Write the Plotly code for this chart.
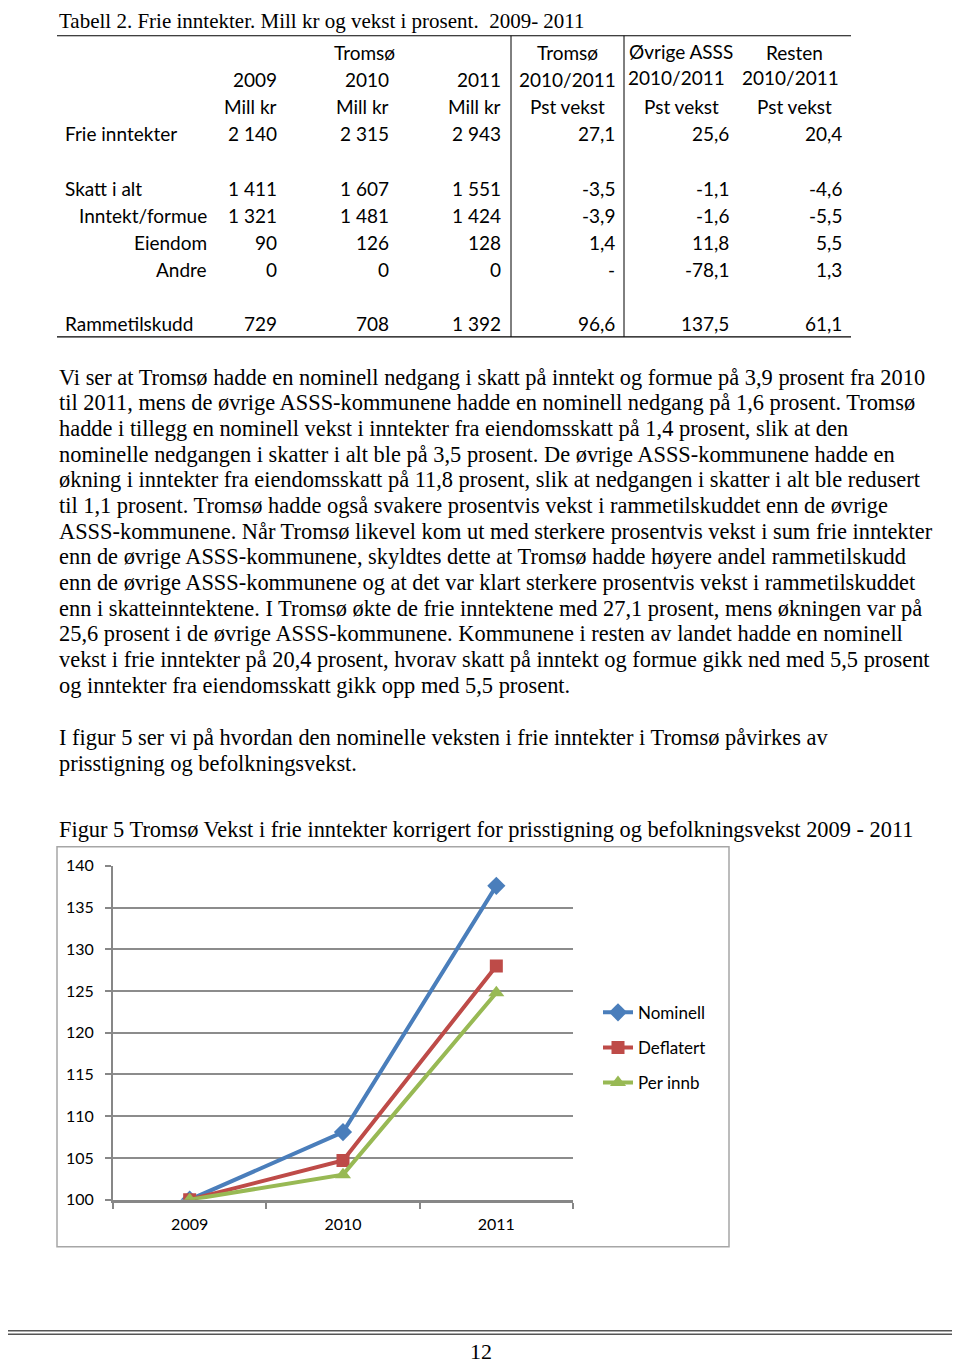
import plotly.graph_objects as go

# The page is shown with an 8px body margin and a small vertical squeeze, so
# positions below are page pixels read off the reference and mapped to paper.
OFF_X = 8
TOP, SQUEEZE = 17.8, 0.9865
FW, FH = 944, 1365
EASE = 10  # px the table block is eased down at the very top

# Tabell 2 data
row_labels = ["Frie inntekter", "Skatt i alt", "Inntekt/formue", "Eiendom", "Andre", "Rammetilskudd"]
row_indent = [False, False, True, True, True, False]
mill_2009 = [2140, 1411, 1321, 90, 0, 729]
mill_2010 = [2315, 1607, 1481, 126, 0, 708]
mill_2011 = [2943, 1551, 1424, 128, 0, 1392]
pst_tromso = [27.1, -3.5, -3.9, 1.4, None, 96.6]
pst_ovrige = [25.6, -1.1, -1.6, 11.8, -78.1, 137.5]
pst_resten = [20.4, -4.6, -5.5, 5.5, 1.3, 61.1]

# Figur 5 data
years = ["2009", "2010", "2011"]
nominell = [100, 108.1, 137.6]
deflatert = [100, 104.7, 128.0]
per_innb = [100, 103.0, 124.8]

paragraph1 = [
    "Vi ser at Tromsø hadde en nominell nedgang i skatt på inntekt og formue på 3,9 prosent fra 2010",
    "til 2011, mens de øvrige ASSS-kommunene hadde en nominell nedgang på 1,6 prosent. Tromsø",
    "hadde i tillegg en nominell vekst i inntekter fra eiendomsskatt på 1,4 prosent, slik at den",
    "nominelle nedgangen i skatter i alt ble på 3,5 prosent. De øvrige ASSS-kommunene hadde en",
    "økning i inntekter fra eiendomsskatt på 11,8 prosent, slik at nedgangen i skatter i alt ble redusert",
    "til 1,1 prosent. Tromsø hadde også svakere prosentvis vekst i rammetilskuddet enn de øvrige",
    "ASSS-kommunene. Når Tromsø likevel kom ut med sterkere prosentvis vekst i sum frie inntekter",
    "enn de øvrige ASSS-kommunene, skyldtes dette at Tromsø hadde høyere andel rammetilskudd",
    "enn de øvrige ASSS-kommunene og at det var klart sterkere prosentvis vekst i rammetilskuddet",
    "enn i skatteinntektene. I Tromsø økte de frie inntektene med 27,1 prosent, mens økningen var på",
    "25,6 prosent i de øvrige ASSS-kommunene. Kommunene i resten av landet hadde en nominell",
    "vekst i frie inntekter på 20,4 prosent, hvorav skatt på inntekt og formue gikk ned med 5,5 prosent",
    "og inntekter fra eiendomsskatt gikk opp med 5,5 prosent.",
]
paragraph2 = [
    "I figur 5 ser vi på hvordan den nominelle veksten i frie inntekter i Tromsø påvirkes av",
    "prisstigning og befolkningsvekst.",
]

SERIF = "Liberation Serif, Times New Roman, serif"
SANS = "Lato, Carlito, Calibri, sans-serif"


def px(x):
    return (x - OFF_X) / FW


def py(y):
    # the very top of the page can't be reached, so the table block is eased down a little
    if y < 361:
        y = y + EASE * (1 - (y - 11) / 350)
    return 1 - ((y - TOP) / SQUEEZE) / FH


def fmt_int(v):
    return f"{v:,}".replace(",", " ")


def fmt_pct(v):
    return "-" if v is None else f"{v:.1f}".replace(".", ",")


annotations = []


def text(x, y, s, size=19, font=SANS, anchor="left", color="black"):
    annotations.append(dict(
        x=px(x), y=py(y), xref="paper", yref="paper", text=s, showarrow=False,
        xanchor=anchor, yanchor="middle", font=dict(family=font, size=size, color=color),
    ))


# title of table
text(57, 11, "Tabell 2. Frie inntekter. Mill kr og vekst i prosent.  2009- 2011", size=21, font=SERIF)

# table header
text(364, 43, "Tromsø", anchor="center")
text(567, 43, "Tromsø", anchor="center")
text(681, 42, "Øvrige ASSS", anchor="center")
text(794, 43, "Resten", anchor="center")
for xr, s in zip([279, 391, 503], ["2009", "2010", "2011"]):
    text(xr, 71, s, anchor="right")
    text(xr, 99, "Mill kr", anchor="right")
text(567, 71, "2010/2011", anchor="center")
text(676, 69, "2010/2011", anchor="center")
text(790, 69, "2010/2011", anchor="center")
for xc in [567, 681, 794]:
    text(xc, 99, "Pst vekst", anchor="center")

# table body
row_y = [127, 183, 211, 239, 267, 322]
col_right = [279, 391, 503, 617, 731, 844]
for i, lab in enumerate(row_labels):
    y = row_y[i]
    if row_indent[i]:
        text(209, y, lab, anchor="right")
    else:
        text(63, y, lab)
    cells = [fmt_int(mill_2009[i]), fmt_int(mill_2010[i]), fmt_int(mill_2011[i]),
             fmt_pct(pst_tromso[i]), fmt_pct(pst_ovrige[i]), fmt_pct(pst_resten[i])]
    for xr, c in zip(col_right, cells):
        text(xr, y, c, anchor="right")

# body text
for i, line in enumerate(paragraph1):
    text(57, 377 + i * 25.7, line, size=22.4, font=SERIF)
for i, line in enumerate(paragraph2):
    text(57, 738 + i * 25.7, line, size=22.4, font=SERIF)
text(57, 830, "Figur 5 Tromsø Vekst i frie inntekter korrigert for prisstigning og befolkningsvekst 2009 - 2011",
     size=22.4, font=SERIF)

# page number
text(481, 1352, "12", size=22, font=SERIF, anchor="center")

shapes = []


def line(x0, y0, x1, y1, color="black", width=1):
    shapes.append(dict(type="line", xref="paper", yref="paper", x0=px(x0), y0=py(y0),
                       x1=px(x1), y1=py(y1), line=dict(color=color, width=width)))


# table rules
line(57, 26, 851, 26, width=1.2)
line(57, 336, 851, 336, width=1.2)
line(511, 26, 511, 336)
line(624, 26, 624, 336)

# footer double rule
line(0, 1331, 960, 1331, color="#555555", width=1.5)
line(0, 1334.5, 960, 1334.5, color="#555555", width=1.5)

# chart frame
shapes.append(dict(type="rect", xref="paper", yref="paper", x0=px(57), y0=py(1247), x1=px(729), y1=py(847),
                   line=dict(color="#A6A6A6", width=1.5)))

fig = go.Figure()
series = [
    ("Nominell", nominell, "#4A7EBB", "diamond", 14),
    ("Deflatert", deflatert, "#BE4B48", "square", 13),
    ("Per innb", per_innb, "#98B954", "triangle-up", 14),
]
for name, vals, col, sym, size in series:
    fig.add_trace(go.Scatter(
        x=years, y=vals, name=name, legendgroup=name, mode="lines+markers",
        line=dict(color=col, width=4),
        marker=dict(symbol=sym, size=size, color=col),
    ))

fig.update_layout(
    width=FW, height=FH,
    margin=dict(l=0, r=0, t=0, b=0),
    paper_bgcolor="white", plot_bgcolor="white",
    showlegend=True,
    legend=dict(x=px(598), y=py(995), xanchor="left", yanchor="top",
                font=dict(family=SANS, size=17, color="black"),
                tracegroupgap=10, bgcolor="rgba(0,0,0,0)"),
    xaxis=dict(domain=[px(113), px(573)], range=[-0.5, 2.5], type="category",
               showline=True, linecolor="#878787", linewidth=3,
               ticks="outside", tickson="boundaries", ticklen=6, tickwidth=2, tickcolor="#878787",
               ticklabelstandoff=8,
               showgrid=False, tickfont=dict(family=SANS, size=16, color="black"),
               zeroline=False),
    yaxis=dict(domain=[py(1200), py(866)], range=[100, 140], dtick=5,
               showline=True, linecolor="#878787", linewidth=2,
               ticks="outside", ticklen=6, tickwidth=2, tickcolor="#878787",
               ticklabelstandoff=8,
               showgrid=True, gridcolor="#8C8C8C", gridwidth=1.5,
               tickfont=dict(family=SANS, size=16, color="black"),
               zeroline=False),
    annotations=annotations,
    shapes=shapes,
)

fig.write_html("out.html")
